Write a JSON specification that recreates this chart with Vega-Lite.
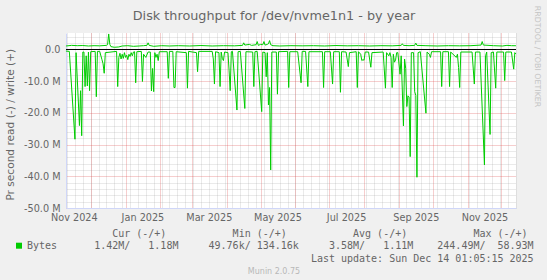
{
"$schema": "https://vega.github.io/schema/vega-lite/v6.json",
"width": 450, "height": 175,
"autosize": {"type": "none"},
"padding": {"left": 66, "top": 33, "right": 31, "bottom": 72},
"background": "#F0F0F0",
"config": {"view": {"stroke": null, "fill": "#FFFFFF"}, "axis": {"labelFont": "DejaVu Sans", "titleFont": "DejaVu Sans", "labelColor": "#666666", "titleColor": "#666666", "titleFontWeight": "normal"}},
"data": {"values": [
{"date":"2024-11-09","dir":"read","value":-0.5},{"date":"2024-11-12","dir":"read","value":-0.6},{"date":"2024-11-17","dir":"read","value":-28.3},{"date":"2024-11-18","dir":"read","value":-1.0},{"date":"2024-11-21","dir":"read","value":-24.0},{"date":"2024-11-22","dir":"read","value":-13.0},{"date":"2024-11-23","dir":"read","value":-27.2},{"date":"2024-11-24","dir":"read","value":-0.8},{"date":"2024-11-25","dir":"read","value":-0.8},{"date":"2024-11-26","dir":"read","value":-11.7},{"date":"2024-11-27","dir":"read","value":-2.0},{"date":"2024-11-28","dir":"read","value":-11.5},{"date":"2024-11-29","dir":"read","value":-0.8},{"date":"2024-11-30","dir":"read","value":-13.0},{"date":"2024-12-01","dir":"read","value":-0.7},{"date":"2024-12-05","dir":"read","value":-0.6},{"date":"2024-12-06","dir":"read","value":-14.9},{"date":"2024-12-07","dir":"read","value":-0.6},{"date":"2024-12-09","dir":"read","value":-0.6},{"date":"2024-12-11","dir":"read","value":-3.2},{"date":"2024-12-12","dir":"read","value":-4.5},{"date":"2024-12-13","dir":"read","value":-7.5},{"date":"2024-12-14","dir":"read","value":-1.0},{"date":"2024-12-24","dir":"read","value":-0.6},{"date":"2024-12-25","dir":"read","value":-11.7},{"date":"2024-12-26","dir":"read","value":-2.5},{"date":"2024-12-27","dir":"read","value":-1.2},{"date":"2024-12-28","dir":"read","value":-3.0},{"date":"2024-12-29","dir":"read","value":-1.5},{"date":"2024-12-30","dir":"read","value":-2.8},{"date":"2024-12-31","dir":"read","value":-1.0},{"date":"2025-01-01","dir":"read","value":-2.5},{"date":"2025-01-02","dir":"read","value":-1.8},{"date":"2025-01-03","dir":"read","value":-3.2},{"date":"2025-01-04","dir":"read","value":-1.5},{"date":"2025-01-05","dir":"read","value":-2.2},{"date":"2025-01-06","dir":"read","value":-1.0},{"date":"2025-01-07","dir":"read","value":-2.0},{"date":"2025-01-08","dir":"read","value":-0.8},{"date":"2025-01-09","dir":"read","value":-0.7},{"date":"2025-01-10","dir":"read","value":-10.5},{"date":"2025-01-11","dir":"read","value":-0.7},{"date":"2025-01-15","dir":"read","value":-0.6},{"date":"2025-01-16","dir":"read","value":-10.1},{"date":"2025-01-17","dir":"read","value":-1.5},{"date":"2025-01-19","dir":"read","value":-2.5},{"date":"2025-01-21","dir":"read","value":-0.8},{"date":"2025-01-23","dir":"read","value":-0.8},{"date":"2025-01-24","dir":"read","value":-13.1},{"date":"2025-01-25","dir":"read","value":-6.0},{"date":"2025-01-26","dir":"read","value":-13.3},{"date":"2025-01-27","dir":"read","value":-1.0},{"date":"2025-01-28","dir":"read","value":-2.5},{"date":"2025-01-29","dir":"read","value":-1.5},{"date":"2025-01-30","dir":"read","value":-3.5},{"date":"2025-01-31","dir":"read","value":-0.7},{"date":"2025-02-07","dir":"read","value":-0.7},{"date":"2025-02-08","dir":"read","value":-9.1},{"date":"2025-02-09","dir":"read","value":-0.6},{"date":"2025-02-12","dir":"read","value":-0.6},{"date":"2025-02-13","dir":"read","value":-12.0},{"date":"2025-02-14","dir":"read","value":-12.0},{"date":"2025-02-15","dir":"read","value":-0.7},{"date":"2025-02-24","dir":"read","value":-1.0},{"date":"2025-02-25","dir":"read","value":-12.2},{"date":"2025-02-26","dir":"read","value":-0.6},{"date":"2025-03-05","dir":"read","value":-1.0},{"date":"2025-03-06","dir":"read","value":-7.0},{"date":"2025-03-07","dir":"read","value":-0.6},{"date":"2025-03-19","dir":"read","value":-0.6},{"date":"2025-03-20","dir":"read","value":-3.0},{"date":"2025-03-21","dir":"read","value":-10.9},{"date":"2025-03-22","dir":"read","value":-0.7},{"date":"2025-03-25","dir":"read","value":-1.0},{"date":"2025-03-26","dir":"read","value":-11.7},{"date":"2025-03-27","dir":"read","value":-0.8},{"date":"2025-03-28","dir":"read","value":-2.8},{"date":"2025-03-29","dir":"read","value":-3.5},{"date":"2025-03-30","dir":"read","value":-0.8},{"date":"2025-04-02","dir":"read","value":-1.0},{"date":"2025-04-03","dir":"read","value":-6.5},{"date":"2025-04-04","dir":"read","value":-13.0},{"date":"2025-04-05","dir":"read","value":-0.7},{"date":"2025-04-06","dir":"read","value":-0.6},{"date":"2025-04-10","dir":"read","value":-19.1},{"date":"2025-04-11","dir":"read","value":-0.7},{"date":"2025-04-13","dir":"read","value":-0.6},{"date":"2025-04-17","dir":"read","value":-18.6},{"date":"2025-04-18","dir":"read","value":-0.7},{"date":"2025-04-24","dir":"read","value":-0.8},{"date":"2025-04-25","dir":"read","value":-11.7},{"date":"2025-04-26","dir":"read","value":-0.7},{"date":"2025-04-28","dir":"read","value":-0.6},{"date":"2025-05-02","dir":"read","value":-19.6},{"date":"2025-05-03","dir":"read","value":-0.8},{"date":"2025-05-05","dir":"read","value":-1.0},{"date":"2025-05-06","dir":"read","value":-8.6},{"date":"2025-05-07","dir":"read","value":-1.0},{"date":"2025-05-08","dir":"read","value":-17.5},{"date":"2025-05-09","dir":"read","value":-12.0},{"date":"2025-05-10","dir":"read","value":-38.0},{"date":"2025-05-11","dir":"read","value":-0.8},{"date":"2025-05-15","dir":"read","value":-0.8},{"date":"2025-05-16","dir":"read","value":-14.1},{"date":"2025-05-17","dir":"read","value":-0.7},{"date":"2025-05-25","dir":"read","value":-0.6},{"date":"2025-05-26","dir":"read","value":-12.0},{"date":"2025-05-27","dir":"read","value":-0.7},{"date":"2025-06-03","dir":"read","value":-0.7},{"date":"2025-06-06","dir":"read","value":-10.5},{"date":"2025-06-07","dir":"read","value":-0.6},{"date":"2025-06-10","dir":"read","value":-0.6},{"date":"2025-06-12","dir":"read","value":-11.7},{"date":"2025-06-13","dir":"read","value":-0.7},{"date":"2025-06-25","dir":"read","value":-0.7},{"date":"2025-06-26","dir":"read","value":-12.0},{"date":"2025-06-27","dir":"read","value":-0.7},{"date":"2025-07-02","dir":"read","value":-0.7},{"date":"2025-07-04","dir":"read","value":-10.9},{"date":"2025-07-05","dir":"read","value":-0.7},{"date":"2025-07-10","dir":"read","value":-0.7},{"date":"2025-07-11","dir":"read","value":-13.5},{"date":"2025-07-12","dir":"read","value":-0.7},{"date":"2025-07-16","dir":"read","value":-0.8},{"date":"2025-07-18","dir":"read","value":-5.4},{"date":"2025-07-19","dir":"read","value":-1.0},{"date":"2025-07-25","dir":"read","value":-0.7},{"date":"2025-07-26","dir":"read","value":-12.0},{"date":"2025-07-27","dir":"read","value":-0.7},{"date":"2025-07-29","dir":"read","value":-1.5},{"date":"2025-07-30","dir":"read","value":-3.5},{"date":"2025-07-31","dir":"read","value":-3.2},{"date":"2025-08-01","dir":"read","value":-3.4},{"date":"2025-08-02","dir":"read","value":-0.8},{"date":"2025-08-05","dir":"read","value":-0.8},{"date":"2025-08-07","dir":"read","value":-5.6},{"date":"2025-08-08","dir":"read","value":-1.0},{"date":"2025-08-18","dir":"read","value":-0.8},{"date":"2025-08-20","dir":"read","value":-12.2},{"date":"2025-08-21","dir":"read","value":-1.0},{"date":"2025-08-23","dir":"read","value":-2.0},{"date":"2025-08-24","dir":"read","value":-1.0},{"date":"2025-08-25","dir":"read","value":-2.5},{"date":"2025-08-26","dir":"read","value":-12.0},{"date":"2025-08-27","dir":"read","value":-1.5},{"date":"2025-08-28","dir":"read","value":-4.0},{"date":"2025-08-29","dir":"read","value":-3.3},{"date":"2025-08-30","dir":"read","value":-1.0},{"date":"2025-08-31","dir":"read","value":-1.0},{"date":"2025-09-02","dir":"read","value":-7.8},{"date":"2025-09-03","dir":"read","value":-2.0},{"date":"2025-09-05","dir":"read","value":-24.1},{"date":"2025-09-06","dir":"read","value":-3.0},{"date":"2025-09-07","dir":"read","value":-6.0},{"date":"2025-09-08","dir":"read","value":-18.0},{"date":"2025-09-09","dir":"read","value":-14.6},{"date":"2025-09-10","dir":"read","value":-15.0},{"date":"2025-09-11","dir":"read","value":-33.8},{"date":"2025-09-12","dir":"read","value":-1.0},{"date":"2025-09-14","dir":"read","value":-1.0},{"date":"2025-09-15","dir":"read","value":-13.3},{"date":"2025-09-16","dir":"read","value":-14.5},{"date":"2025-09-17","dir":"read","value":-40.3},{"date":"2025-09-18","dir":"read","value":-1.0},{"date":"2025-09-20","dir":"read","value":-0.7},{"date":"2025-09-25","dir":"read","value":-20.1},{"date":"2025-09-26","dir":"read","value":-0.8},{"date":"2025-09-28","dir":"read","value":-1.5},{"date":"2025-09-29","dir":"read","value":-2.5},{"date":"2025-09-30","dir":"read","value":-0.7},{"date":"2025-10-08","dir":"read","value":-0.7},{"date":"2025-10-09","dir":"read","value":-11.7},{"date":"2025-10-10","dir":"read","value":-0.7},{"date":"2025-10-15","dir":"read","value":-0.7},{"date":"2025-10-16","dir":"read","value":-11.7},{"date":"2025-10-17","dir":"read","value":-0.8},{"date":"2025-10-22","dir":"read","value":-2.5},{"date":"2025-10-23","dir":"read","value":-1.5},{"date":"2025-10-24","dir":"read","value":-5.7},{"date":"2025-10-25","dir":"read","value":-12.0},{"date":"2025-10-26","dir":"read","value":-0.8},{"date":"2025-11-05","dir":"read","value":-0.8},{"date":"2025-11-07","dir":"read","value":-10.9},{"date":"2025-11-08","dir":"read","value":-0.8},{"date":"2025-11-12","dir":"read","value":-0.8},{"date":"2025-11-16","dir":"read","value":-36.4},{"date":"2025-11-17","dir":"read","value":-2.0},{"date":"2025-11-18","dir":"read","value":-0.8},{"date":"2025-11-21","dir":"read","value":-26.8},{"date":"2025-11-22","dir":"read","value":-1.0},{"date":"2025-11-24","dir":"read","value":-0.8},{"date":"2025-11-26","dir":"read","value":-12.2},{"date":"2025-11-27","dir":"read","value":-0.8},{"date":"2025-12-03","dir":"read","value":-0.8},{"date":"2025-12-04","dir":"read","value":-9.8},{"date":"2025-12-05","dir":"read","value":-0.8},{"date":"2025-12-10","dir":"read","value":-0.8},{"date":"2025-12-12","dir":"read","value":-6.2},{"date":"2025-12-13","dir":"read","value":-1.0},{"date":"2025-12-14","dir":"read","value":-1.42},
{"date":"2024-11-09","dir":"write","value":1.1},{"date":"2024-11-14","dir":"write","value":1.3},{"date":"2024-11-19","dir":"write","value":1.2},{"date":"2024-11-24","dir":"write","value":1.25},{"date":"2024-11-29","dir":"write","value":1.1},{"date":"2024-12-04","dir":"write","value":1.2},{"date":"2024-12-09","dir":"write","value":1.15},{"date":"2024-12-15","dir":"write","value":1.3},{"date":"2024-12-16","dir":"write","value":1.5},{"date":"2024-12-17","dir":"write","value":4.9},{"date":"2024-12-18","dir":"write","value":1.6},{"date":"2024-12-19","dir":"write","value":0.9},{"date":"2024-12-22","dir":"write","value":0.7},{"date":"2024-12-26","dir":"write","value":0.8},{"date":"2024-12-29","dir":"write","value":1.1},{"date":"2025-01-03","dir":"write","value":1.2},{"date":"2025-01-08","dir":"write","value":1.0},{"date":"2025-01-13","dir":"write","value":1.1},{"date":"2025-01-17","dir":"write","value":1.2},{"date":"2025-01-20","dir":"write","value":1.3},{"date":"2025-01-21","dir":"write","value":2.1},{"date":"2025-01-22","dir":"write","value":1.3},{"date":"2025-01-26","dir":"write","value":1.0},{"date":"2025-02-02","dir":"write","value":1.2},{"date":"2025-02-09","dir":"write","value":1.1},{"date":"2025-02-17","dir":"write","value":1.2},{"date":"2025-02-27","dir":"write","value":1.1},{"date":"2025-03-09","dir":"write","value":1.25},{"date":"2025-03-19","dir":"write","value":1.1},{"date":"2025-03-29","dir":"write","value":1.2},{"date":"2025-04-08","dir":"write","value":1.15},{"date":"2025-04-15","dir":"write","value":1.3},{"date":"2025-04-16","dir":"write","value":2.1},{"date":"2025-04-17","dir":"write","value":1.4},{"date":"2025-04-21","dir":"write","value":1.6},{"date":"2025-04-23","dir":"write","value":1.3},{"date":"2025-04-27","dir":"write","value":1.5},{"date":"2025-04-28","dir":"write","value":2.5},{"date":"2025-04-29","dir":"write","value":1.3},{"date":"2025-05-01","dir":"write","value":1.6},{"date":"2025-05-03","dir":"write","value":1.5},{"date":"2025-05-04","dir":"write","value":2.5},{"date":"2025-05-05","dir":"write","value":1.4},{"date":"2025-05-07","dir":"write","value":1.6},{"date":"2025-05-08","dir":"write","value":1.8},{"date":"2025-05-09","dir":"write","value":2.8},{"date":"2025-05-10","dir":"write","value":1.5},{"date":"2025-05-12","dir":"write","value":1.2},{"date":"2025-05-18","dir":"write","value":1.1},{"date":"2025-05-28","dir":"write","value":1.2},{"date":"2025-06-07","dir":"write","value":1.15},{"date":"2025-06-17","dir":"write","value":1.2},{"date":"2025-06-27","dir":"write","value":1.1},{"date":"2025-07-07","dir":"write","value":1.25},{"date":"2025-07-17","dir":"write","value":1.15},{"date":"2025-07-27","dir":"write","value":1.2},{"date":"2025-08-06","dir":"write","value":1.1},{"date":"2025-08-16","dir":"write","value":1.2},{"date":"2025-08-26","dir":"write","value":1.15},{"date":"2025-09-03","dir":"write","value":1.3},{"date":"2025-09-04","dir":"write","value":1.8},{"date":"2025-09-05","dir":"write","value":1.3},{"date":"2025-09-10","dir":"write","value":1.2},{"date":"2025-09-15","dir":"write","value":1.3},{"date":"2025-09-16","dir":"write","value":2.0},{"date":"2025-09-17","dir":"write","value":1.3},{"date":"2025-09-25","dir":"write","value":1.2},{"date":"2025-10-05","dir":"write","value":1.1},{"date":"2025-10-15","dir":"write","value":1.2},{"date":"2025-10-25","dir":"write","value":1.15},{"date":"2025-11-04","dir":"write","value":1.2},{"date":"2025-11-13","dir":"write","value":1.4},{"date":"2025-11-14","dir":"write","value":2.5},{"date":"2025-11-15","dir":"write","value":1.4},{"date":"2025-11-24","dir":"write","value":1.2},{"date":"2025-12-02","dir":"write","value":1.1},{"date":"2025-12-06","dir":"write","value":1.3},{"date":"2025-12-10","dir":"write","value":1.2},{"date":"2025-12-14","dir":"write","value":1.18}
]},
"layer": [
{"transform": [{"filter": "false"}], "mark": "rule",
 "encoding": {
  "x": {"field": "date", "type": "temporal",
   "scale": {"type": "utc", "domain": [{"year": 2024, "month": 11, "date": 9, "hours": 1, "minutes": 5, "seconds": 15, "utc": true}, {"year": 2025, "month": 12, "date": 14, "hours": 1, "minutes": 5, "seconds": 15, "utc": true}]},
   "axis": {"orient": "bottom", "tickCount": {"interval": "week", "step": 1}, "grid": true, "gridColor": "#8F8F8F", "gridOpacity": 0.38, "gridDash": [1, 1], "gridWidth": 1, "labels": false, "ticks": false, "domain": false, "title": null}},
  "y": {"field": "value", "type": "quantitative", "scale": {"domain": [-50, 5.2], "nice": false, "zero": false},
   "axis": {"orient": "left", "values": [-48,-46,-44,-42,-38,-36,-34,-32,-28,-26,-24,-22,-18,-16,-14,-12,-8,-6,-4,-2,2,4], "grid": true, "gridColor": "#8F8F8F", "gridOpacity": 0.38, "gridDash": [1, 1], "gridWidth": 1, "labels": false, "ticks": false, "domain": false, "title": null}}
 }},
{"transform": [{"filter": "false"}], "mark": "rule",
 "encoding": {
  "x": {"field": "date", "type": "temporal",
   "axis": {"orient": "bottom", "tickCount": {"interval": "month", "step": 1}, "grid": true, "gridColor": "#DE4F4F", "gridOpacity": 0.55, "gridDash": [1, 1], "gridWidth": 1, "labels": false, "ticks": false, "domain": false,
    "title": ["\u200b\u00a0\u00a0\u00a0\u00a0\u00a0Cur\u00a0(-/+)\u00a0\u00a0\u00a0\u00a0\u00a0\u00a0\u00a0\u00a0\u00a0\u00a0\u00a0Min\u00a0(-/+)\u00a0\u00a0\u00a0\u00a0\u00a0\u00a0\u00a0\u00a0\u00a0\u00a0\u00a0Avg\u00a0(-/+)\u00a0\u00a0\u00a0\u00a0\u00a0\u00a0\u00a0\u00a0\u00a0\u00a0\u00a0Max\u00a0(-/+)",
              "\u200b\u00a0\u00a01.42M/\u00a0\u00a0\u00a01.18M\u00a0\u00a0\u00a0\u00a0\u00a049.76k/\u00a0134.16k\u00a0\u00a0\u00a0\u00a0\u00a03.58M/\u00a0\u00a0\u00a01.11M\u00a0\u00a0\u00a0\u00a0244.49M/\u00a0\u00a058.93M",
              "\u200b\u00a0\u00a0\u00a0\u00a0\u00a0\u00a0\u00a0\u00a0\u00a0\u00a0\u00a0\u00a0\u00a0\u00a0\u00a0\u00a0\u00a0\u00a0\u00a0\u00a0\u00a0\u00a0\u00a0\u00a0\u00a0\u00a0\u00a0\u00a0\u00a0\u00a0\u00a0\u00a0\u00a0\u00a0\u00a0\u00a0\u00a0\u00a0Last\u00a0update:\u00a0Sun\u00a0Dec\u00a014\u00a001:05:15\u00a02025"],
    "titleFont": "DejaVu Sans Mono", "titleFontSize": 10, "titleColor": "#666666", "titleAlign": "left", "titleAnchor": "start", "titleBaseline": "top", "titleX": 15.6, "titleY": 20, "titleLineHeight": 12.6}},
  "y": {"field": "value", "type": "quantitative",
   "axis": {"orient": "left", "values": [-50, -40, -30, -20, -10, 0], "grid": true, "gridColor": "#DE4F4F", "gridOpacity": 0.55, "gridDash": [1, 1], "gridWidth": 1, "ticks": false, "tickSize": 0, "labelPadding": 6, "labelFontSize": 9.7,
    "labelExpr": "datum.value == 0 ? '0.0' : (datum.value < 0 ? '-' : '') + format(abs(datum.value), '.1f') + ' M'",
    "domain": true, "domainColor": "#CFD6F8", "domainWidth": 1,
    "title": "Pr second read (-) / write (+)", "titleFontSize": 10.6, "titleAngle": 270, "titleX": -52.3, "titleY": 91.2, "titleAlign": "center", "titleBaseline": "alphabetic"}}
 }},
{"transform": [{"filter": "false"}], "mark": "rule",
 "encoding": {
  "x": {"field": "date", "type": "temporal",
   "axis": {"orient": "bottom", "values": [{"year": 2024, "month": 11, "date": 16, "utc": true}, {"year": 2025, "month": 1, "date": 16, "utc": true}, {"year": 2025, "month": 3, "date": 16, "utc": true}, {"year": 2025, "month": 5, "date": 16, "utc": true}, {"year": 2025, "month": 7, "date": 16, "utc": true}, {"year": 2025, "month": 9, "date": 16, "utc": true}, {"year": 2025, "month": 11, "date": 16, "utc": true}],
    "labelExpr": "utcFormat(datum.value, '%b %Y')", "labelFlush": false, "labelOverlap": false, "labelFontSize": 9.7, "labelPadding": 4, "labelBaseline": "top", "ticks": false, "tickSize": 0, "grid": false, "domain": true, "domainColor": "#CFD6F8", "domainWidth": 1,
    "title": "Munin 2.0.75", "titleFontSize": 8, "titleColor": "#B8B8B8", "titleX": 207.5, "titleY": 65.5, "titleAlign": "center", "titleAnchor": "start", "titleBaseline": "alphabetic"}},
  "y": {"field": "value", "type": "quantitative",
   "axis": {"orient": "right", "labels": false, "ticks": false, "domain": false, "grid": false, "title": "RRDTOOL / TOBI OETIKER", "titleAngle": 90, "titleFontSize": 7.9, "titleColor": "#C4C4C4", "titleX": 20.7, "titleY": 23, "titleAlign": "center", "titleBaseline": "middle"}}
 }},
{"transform": [{"filter": "false"}], "mark": "rule",
 "encoding": {
  "x": {"field": "date", "type": "temporal",
   "axis": {"orient": "top", "labels": false, "ticks": false, "domain": false, "grid": false, "title": "Disk throughput for /dev/nvme1n1 - by year", "titleFontSize": 12.8, "titleColor": "#666666", "titleX": 207.5, "titleY": -13.8, "titleAlign": "center", "titleAnchor": "start", "titleBaseline": "alphabetic"}}
 }},
{"mark": {"type": "line", "strokeWidth": 1, "strokeJoin": "round", "interpolate": "linear"},
 "encoding": {
  "x": {"field": "date", "type": "temporal", "axis": null},
  "y": {"field": "value", "type": "quantitative", "axis": null},
  "detail": {"field": "dir"},
  "color": {"datum": "Bytes", "type": "nominal", "scale": {"range": ["#00CC00"]},
   "legend": {"title": null, "orient": "none", "legendX": -52, "legendY": 207.7, "padding": 0, "symbolType": "square", "symbolSize": 36, "symbolStrokeWidth": 0, "symbolFillColor": "#00CC00", "labelFont": "DejaVu Sans Mono", "labelFontSize": 10, "labelColor": "#666666", "labelOffset": 3,
    "encode": {"symbols": {"update": {"fill": {"value": "#00CC00"}, "strokeWidth": {"value": 0}, "shape": {"value": "square"}}}}}}
 }},
{"data": {"values": [{}]}, "mark": {"type": "rule", "color": "#000000", "strokeWidth": 1},
 "encoding": {"y": {"datum": 0, "type": "quantitative", "axis": null}}}
],
"resolve": {"axis": {"x": "independent", "y": "independent"}}
}
